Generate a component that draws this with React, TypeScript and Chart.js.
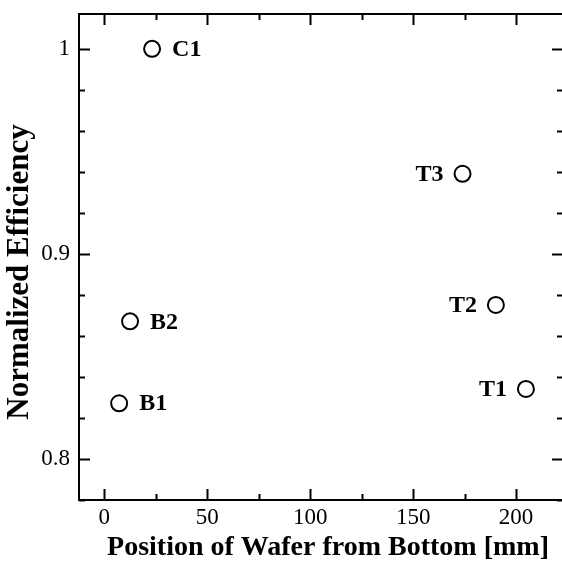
import React, { useEffect, useRef } from "react";
import { Chart, registerables } from "chart.js";

Chart.register(...registerables);

const pointNames = ["B1", "B2", "C1", "T3", "T2", "T1"];
const positions = [7.2, 12.5, 23.2, 174.0, 190.2, 204.8];
const efficiency = [0.827, 0.867, 1.0, 0.939, 0.875, 0.834];
const labelSide = ["right", "right", "right", "left", "left", "left"];
const xTicks = [0, 50, 100, 150, 200];
const yTicks = [0.8, 0.9, 1];
const xTitle = "Position of Wafer from Bottom [mm]";
const yTitle = "Normalized Efficiency";

const X_MIN = -12.3;
const X_MAX = 222.8;
const Y_MIN = 0.7798;
const Y_MAX = 1.017;

const SERIF = "'Liberation Serif', 'Times New Roman', serif";

const framePlugin = {
  id: "frameTicks",
  afterDatasetsDraw(chart: any) {
    const { ctx, chartArea, scales } = chart;
    const { left, right, top, bottom } = chartArea;
    const xs = scales.x;
    const ys = scales.y;
    ctx.save();
    ctx.strokeStyle = "#000";
    ctx.lineWidth = 2;
    ctx.strokeRect(left, top, right - left, bottom - top);
    ctx.beginPath();
    for (let v = 0; v <= X_MAX; v += 25) {
      const p = Math.round(xs.getPixelForValue(v)) + 0.5;
      const len = v % 50 === 0 ? 11 : 6;
      ctx.moveTo(p, bottom);
      ctx.lineTo(p, bottom - len);
      ctx.moveTo(p, top);
      ctx.lineTo(p, top + len);
    }
    for (let i = 0; i <= 12; i++) {
      const v = 0.78 + i * 0.02;
      if (v > Y_MAX) break;
      const p = Math.round(ys.getPixelForValue(v)) + 0.5;
      const major = Math.abs(v * 10 - Math.round(v * 10)) < 1e-6;
      const len = major ? 11 : 6;
      ctx.moveTo(left, p);
      ctx.lineTo(left + len, p);
      ctx.moveTo(right, p);
      ctx.lineTo(right - len, p);
    }
    ctx.stroke();

    ctx.fillStyle = "#000";
    ctx.font = "bold 24px " + SERIF;
    ctx.textBaseline = "middle";
    const meta = chart.getDatasetMeta(0);
    meta.data.forEach((el: any, i: number) => {
      if (labelSide[i] === "right") {
        ctx.textAlign = "left";
        ctx.fillText(pointNames[i], el.x + 20, el.y + 1);
      } else {
        ctx.textAlign = "right";
        ctx.fillText(pointNames[i], el.x - 19, el.y + 1);
      }
    });

    ctx.textBaseline = "alphabetic";
    ctx.textAlign = "center";
    ctx.font = "bold 28px " + SERIF;
    ctx.fillText(xTitle, 328, 555);
    ctx.save();
    ctx.translate(28, 272);
    ctx.rotate(-Math.PI / 2);
    ctx.font = "bold 31px " + SERIF;
    ctx.fillText(yTitle, 0, 0);
    ctx.restore();
    ctx.restore();
  },
};

const zeroPad = (s: any) => {
  s.paddingTop = 0;
  s.paddingBottom = 0;
  s.paddingLeft = 0;
  s.paddingRight = 0;
};

export default function App() {
  const ref = useRef<HTMLCanvasElement | null>(null);
  useEffect(() => {
    if (!ref.current) return;
    const chart = new Chart(ref.current, {
      type: "scatter",
      data: {
        datasets: [
          {
            data: positions.map((x, i) => ({ x, y: efficiency[i] })),
            pointRadius: 8,
            pointBorderWidth: 2,
            pointBorderColor: "#000",
            pointBackgroundColor: "rgba(0,0,0,0)",
          },
        ],
      },
      options: {
        animation: false,
        responsive: false,
        maintainAspectRatio: false,
        layout: { autoPadding: false, padding: { top: 14, right: 0, left: 0, bottom: 0 } },
        plugins: { legend: { display: false }, tooltip: { enabled: false } },
        scales: {
          x: {
            type: "linear",
            min: X_MIN,
            max: X_MAX,
            afterBuildTicks: (s: any) => {
              s.ticks = xTicks.map((v) => ({ value: v }));
            },
            afterFit: (s: any) => {
              s.height = 61;
              zeroPad(s);
            },
            grid: { display: false, drawTicks: false },
            border: { display: false },
            ticks: {
              color: "#000",
              font: { family: SERIF, size: 23 },
              padding: 4,
              maxRotation: 0,
            },
            title: { display: false },
          },
          y: {
            type: "linear",
            min: Y_MIN,
            max: Y_MAX,
            afterBuildTicks: (s: any) => {
              s.ticks = yTicks.map((v) => ({ value: v }));
            },
            afterFit: (s: any) => {
              s.width = 79;
              zeroPad(s);
            },
            grid: { display: false, drawTicks: false },
            border: { display: false },
            ticks: {
              color: "#000",
              font: { family: SERIF, size: 23 },
              padding: 9,
              callback: (v: any) => String(v),
            },
            title: { display: false },
          },
        },
      },
      plugins: [framePlugin],
    });
    return () => chart.destroy();
  }, []);
  return (
    <div style={{ position: "fixed", left: 0, top: 0, width: 562, height: 561, background: "#fff" }}>
      <canvas ref={ref} width={563} height={561} style={{ display: "block" }} />
    </div>
  );
}
